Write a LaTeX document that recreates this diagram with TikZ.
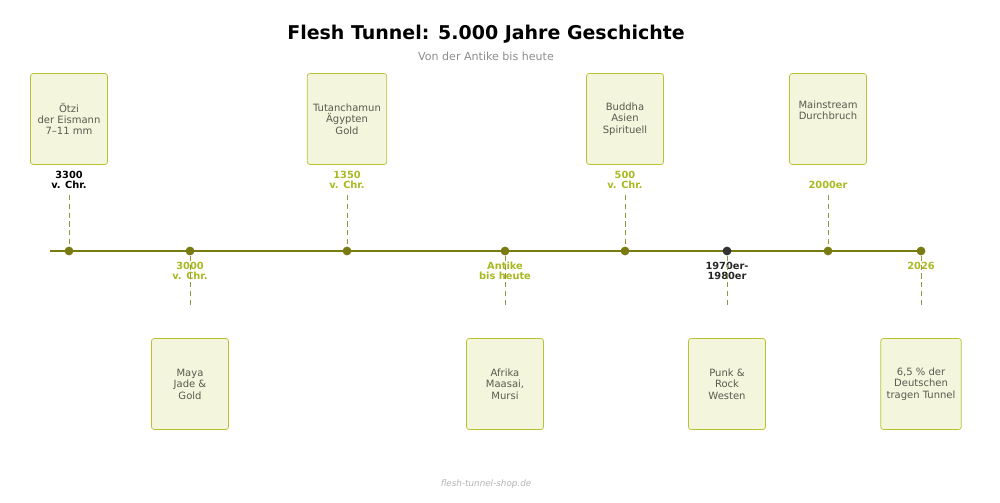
\documentclass[tikz,border=0pt]{standalone}
\usepackage{fontspec}
\setmainfont{DejaVu Sans}
\definecolor{axisline}{RGB}{122,122,18}
\definecolor{yearcol}{RGB}{168,184,32}
\definecolor{boxfill}{RGB}{243,245,221}
\definecolor{boxdraw}{RGB}{184,194,48}
\definecolor{boxtext}{RGB}{90,90,80}
\tikzset{
  event/.style={circle, fill=axisline, inner sep=0pt, minimum size=5pt},
  eventdark/.style={circle, fill=black!80, inner sep=0pt, minimum size=5pt},
  card/.style={rectangle, rounded corners=1.5pt, draw=boxdraw, fill=boxfill, minimum width=1.54cm, minimum height=1.82cm, align=center, text=boxtext, font=\fontsize{5.7}{6.5}\selectfont},
  year/.style={align=center, text=yearcol, font=\bfseries\fontsize{5.6}{6}\selectfont},
  stem/.style={densely dashed, draw=axisline!80, thin}
}
\begin{document}
\begin{tikzpicture}[x=0.02cm, y=-0.02cm]
  \useasboundingbox (0,0) rectangle (1000,503);
  % Titles
  \node (title) at (486,34) {\bfseries\fontsize{10.8}{12}\selectfont Flesh Tunnel: 5.000 Jahre Geschichte};
  \node (sub) [text=black!45, font=\fontsize{6.3}{7}\selectfont] at (486,56) {Von der Antike bis heute};
  \node (foot) [text=black!30, font=\itshape\fontsize{5}{6}\selectfont] at (486,484) {flesh-tunnel-shop.de};
  % Axis
  \coordinate (start) at (50,251);
  \coordinate (end) at (921,251);
  \draw [axisline, line width=1.5pt] (start) -- (end);
  % Events above
  \node (e1)[event] at (69,251) {};
  \node (e3)[event] at (347,251) {};
  \node (e5)[event] at (625,251) {};
  \node (e7)[event] at (828,251) {};
  % Events below
  \node (e2)[event] at (190,251) {};
  \node (e4)[event] at (505,251) {};
  \node (e6)[eventdark] at (727,251) {};
  \node (e8)[event] at (921,251) {};
  % Cards
  \node (c1)[card] at (69,119) {Ötzi\\der Eismann\\7–11 mm};
  \node (c3)[card] at (347,119) {Tutanchamun\\Ägypten\\Gold};
  \node (c5)[card] at (625,119) {Buddha\\Asien\\Spirituell};
  \node (c7)[card] at (828,119) {Mainstream\\Durchbruch\\[1.2ex]};
  \node (c2)[card] at (190,384) {Maya\\Jade \&\\Gold};
  \node (c4)[card] at (505,384) {Afrika\\Maasai,\\Mursi};
  \node (c6)[card] at (727,384) {Punk \&\\Rock\\Westen};
  \node (c8)[card] at (921,384) {6,5 \% der\\Deutschen\\tragen Tunnel};
  % Year labels
  \node (y1)[year, text=black] at (69,180) {3300\\v. Chr.};
  \node (y3)[year] at (347,180) {1350\\v. Chr.};
  \node (y5)[year] at (625,180) {500\\v. Chr.};
  \node (y7)[year] at (828,185) {2000er};
  \node (y2)[year] at (190,271) {3000\\v. Chr.};
  \node (y4)[year] at (505,271) {Antike\\bis heute};
  \node (y6)[year, text=black!85] at (727,271) {1970er-\\1980er};
  \node (y8)[year] at (921,266) {2026};
  % Stems
  \foreach \n/\x in {1/69,3/347,5/625,7/828}
    {\coordinate (s\n) at (\x,195); \draw [stem] (s\n) -- (e\n);}
  \foreach \n/\x in {2/190,4/505,6/727,8/921}
    {\coordinate (s\n) at (\x,307); \draw [stem] (e\n) -- (s\n);}
\end{tikzpicture}
\end{document}
